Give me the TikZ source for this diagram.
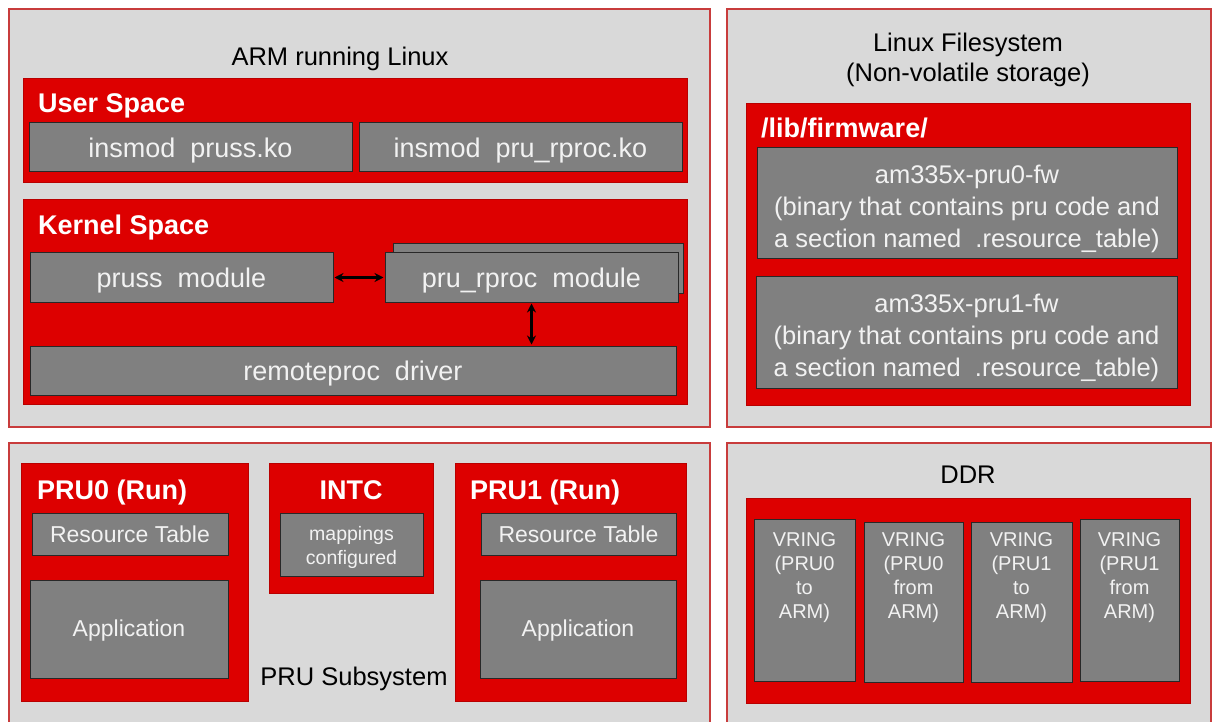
\documentclass[tikz,border=0pt]{standalone}
\usepackage{fontspec}
\setmainfont{Liberation Sans}
\usetikzlibrary{fit,arrows.meta}
\definecolor{panelfill}{RGB}{217,217,217}
\definecolor{panelline}{RGB}{200,60,60}
\definecolor{redfill}{RGB}{221,0,0}
\definecolor{redline}{RGB}{185,0,0}
\definecolor{grayfill}{RGB}{128,128,128}
\definecolor{grayline}{RGB}{40,40,40}
\definecolor{graytext}{RGB}{242,242,242}
\newcommand{\fs}[2]{\fontsize{#1}{#2}\selectfont}
\tikzset{
  panel/.style={draw=panelline, fill=panelfill, line width=1.2pt, inner sep=0pt},
  redbox/.style={draw=redline, fill=redfill, line width=1pt, inner sep=0pt},
  graybox/.style={draw=grayline, fill=grayfill, line width=1pt, inner sep=0pt},
  gtext/.style={text=graytext, inner sep=0pt, align=center, anchor=center},
  title/.style={text=white, font=\fs{27}{32}\bfseries, inner sep=0pt},
  plain/.style={text=black, font=\fs{25.5}{30}, inner sep=0pt, align=center},
  dbl/.style={{Stealth[length=9pt,width=9pt]}-{Stealth[length=9pt,width=9pt]}, line width=2.2pt, black, shorten <=1pt, shorten >=1pt}
}
\begin{document}
\begin{tikzpicture}[x=1pt,y=-1pt]
\useasboundingbox (0,0) rectangle (1216,722);
\fill[white] (0,0) rectangle (1216,722);
% panels
\node[panel, fit={(9,9) (710,427)}] (arm) {};
\node[panel, fit={(727,9) (1211,427)}] (fs) {};
\node[panel, fit={(9,443) (710,735)}] (prus) {};
\node[panel, fit={(727,443) (1211,735)}] (ddr) {};
\node[plain, anchor=base] (armt) at (340,66) {ARM running Linux};
\node[plain, anchor=base] (fst1) at (968,52) {Linux Filesystem};
\node[plain, anchor=base] (fst2) at (968,82) {(Non-volatile storage)};
\node[plain, anchor=base] (ddrt) at (968,483) {DDR};
\node[plain, anchor=base] (prust) at (354,685) {PRU Subsystem};
% ARM panel
\node[redbox, fit={(23,79) (687,183)}] (user) {};
\node[title, anchor=base west] (usert) at (38,113) {User Space};
\node[graybox, fit={(29,123) (352,172)}] (ins1) {};
\node[gtext, font=\fs{27}{30}] (ins1t) at ([yshift=-3pt]ins1.center) {insmod\ \ pruss.ko};
\node[graybox, fit={(359,123) (682,172)}] (ins2) {};
\node[gtext, font=\fs{27}{30}] (ins2t) at ([yshift=-3pt]ins2.center) {insmod\ \ pru\_rproc.ko};
\node[redbox, fit={(23,200) (687,404)}] (kern) {};
\node[title, anchor=base west] (kernt) at (38,235) {Kernel Space};
\node[graybox, fit={(30,253) (333,302)}] (pruss) {};
\node[gtext, font=\fs{27}{30}] (prusst) at ([yshift=-3pt]pruss.center) {pruss\ \ module};
\node[graybox, fit={(393,244) (683,293)}] (rprocsh) {};
\node[graybox, fit={(385,253) (678,302)}] (rproc) {};
\node[gtext, font=\fs{27}{30}] (rproct) at ([yshift=-3pt]rproc.center) {pru\_rproc\ \ module};
\node[graybox, fit={(30,346) (676,395)}] (rdrv) {};
\node[gtext, font=\fs{27}{30}] (rdrvt) at ([yshift=-3pt]rdrv.center) {remoteproc\ \ driver};
\draw[dbl] (pruss.east) -- (rproc.west);
\draw[dbl] (rproc.south) -- (rproc.south |- rdrv.north);
% filesystem panel
\node[redbox, fit={(746,104) (1190,405)}] (fw) {};
\node[title, anchor=base west] (fwt) at (761,138) {/lib/firmware/};
\node[graybox, fit={(757,148) (1177,259)}] (fw0) {};
\node[gtext, font=\fs{25.5}{32}] (fw0t) at ([yshift=-5pt]fw0.center) {am335x-pru0-fw\\(binary that contains pru code and\\a section named \ .resource\_table)};
\node[graybox, fit={(756,277) (1177,388)}] (fw1) {};
\node[gtext, font=\fs{25.5}{32}] (fw1t) at ([yshift=-5pt]fw1.center) {am335x-pru1-fw\\(binary that contains pru code and\\a section named \ .resource\_table)};
% PRU subsystem
\node[redbox, fit={(21,463) (248,701)}] (pru0) {};
\node[title, anchor=base west] (pru0t) at (37,499) {PRU0 (Run)};
\node[graybox, fit={(32,513) (228,555)}] (rt0) {};
\node[gtext, font=\fs{23}{26}] (rt0t) at (rt0.center) {Resource Table};
\node[graybox, fit={(30,580) (228,678)}] (app0) {};
\node[gtext, font=\fs{23}{26}] (app0t) at ([yshift=-2pt]app0.center) {Application};
\node[redbox, fit={(269,463) (433,593)}] (intc) {};
\node[title, anchor=base] (intct) at (351,499) {INTC};
\node[graybox, fit={(280,513) (423,576)}] (map) {};
\node[gtext, font=\fs{19.5}{24}] (mapt) at ([yshift=-3pt]map.center) {mappings\\configured};
\node[redbox, fit={(455,463) (686,701)}] (pru1) {};
\node[title, anchor=base west] (pru1t) at (470,499) {PRU1 (Run)};
\node[graybox, fit={(481,513) (676,555)}] (rt1) {};
\node[gtext, font=\fs{23}{26}] (rt1t) at (rt1.center) {Resource Table};
\node[graybox, fit={(480,580) (676,678)}] (app1) {};
\node[gtext, font=\fs{23}{26}] (app1t) at ([yshift=-2pt]app1.center) {Application};
% DDR
\node[redbox, fit={(746,498) (1190,703)}] (ddrb) {};
\node[graybox, fit={(754,519) (855,681)}] (vr1) {};
\node[graybox, fit={(864,522) (963,682)}] (vr2) {};
\node[graybox, fit={(971,522) (1072,682)}] (vr3) {};
\node[graybox, fit={(1080,519) (1179,681)}] (vr4) {};
\tikzset{vrt/.style={anchor=north, text=graytext, align=center, inner sep=0pt, font=\fs{20}{24}}}
\node[vrt] (vr1t) at (804.5,532) {VRING\\(PRU0\\to\\ARM)};
\node[vrt] (vr2t) at (913.5,532) {VRING\\(PRU0\\from\\ARM)};
\node[vrt] (vr3t) at (1021.5,532) {VRING\\(PRU1\\to\\ARM)};
\node[vrt] (vr4t) at (1129.5,532) {VRING\\(PRU1\\from\\ARM)};
\end{tikzpicture}
\end{document}
